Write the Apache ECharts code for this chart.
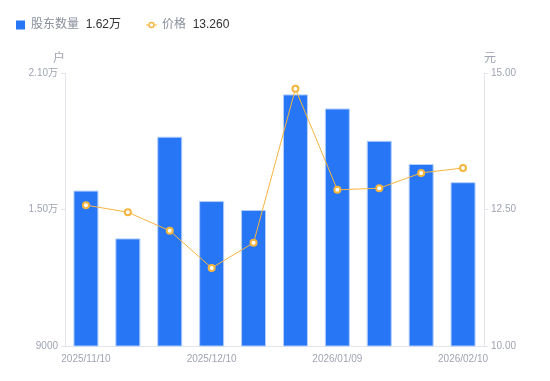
<!DOCTYPE html>
<html><head><meta charset="utf-8">
<script src="https://cdn.jsdelivr.net/npm/echarts@6/dist/echarts.min.js"></script>
<style>html,body{margin:0;padding:0;background:#fff}#c{width:550px;height:381px}</style>
</head><body><div id="c"></div>
<script>
const categories = ['2025/11/10','2025/11/20','2025/11/28','2025/12/10','2025/12/19','2025/12/31','2026/01/09','2026/01/20','2026/01/30','2026/02/10'];
const holders = [15830, 13730, 18200, 15370, 14980, 20060, 19440, 18020, 17000, 16200];
const prices = [12.58, 12.45, 12.11, 11.43, 11.89, 14.71, 12.86, 12.89, 13.17, 13.26];
const leftTicks = { min: 9000, max: 21000, interval: 6000 };
const rightTicks = { min: 10, max: 15, interval: 2.5 };

function fmtHolders(v){ return v >= 10000 ? (v/10000).toFixed(2) + '万' : String(v); }
const lastH = holders[holders.length-1], lastP = prices[prices.length-1];

const chart = echarts.init(document.getElementById('c'));
const labelColor = '#a0a4b3';
const axisLineColor = '#e3e5ea';
const font = 'Liberation Sans, Arial, Noto Sans CJK SC, sans-serif';
const lineIcon = 'path://M0,3L2.5,3L2.5,4L0,4Z M9.5,3L12,3L12,4L9.5,4Z M2.5,3.5A3.5,3.5 0 1 1 9.5,3.5A3.5,3.5 0 1 1 2.5,3.5Z M4,3.5A2,2 0 1 0 8,3.5A2,2 0 1 0 4,3.5Z';
chart.setOption({
  animation: false,
  textStyle: { fontFamily: font },
  legend: {
    left: 11, top: 14, itemWidth: 11, itemHeight: 9, itemGap: 25, symbolKeepAspect: true,
    data: [
      { name: '股东数量', icon: 'path://M0,0L9,0L9,9L0,9Z', itemStyle: { borderWidth: 0, color: '#2776f5' } },
      { name: '价格', icon: lineIcon, itemStyle: { borderWidth: 0, color: '#f6b53f' } }
    ],
    formatter: function(n){
      return n === '股东数量' ? '{a|' + n + '}  {b|' + fmtHolders(lastH) + '}' : '{a|' + n + '}  {b|' + lastP.toFixed(3) + '}';
    },
    textStyle: { rich: { a: { color: '#8a8f9c', fontSize: 12, fontFamily: font }, b: { color: '#333', fontSize: 12, fontFamily: font } } }
  },
  grid: { left: 65, right: 66, top: 73, bottom: 35 },
  xAxis: {
    type: 'category', data: categories,
    axisLine: { lineStyle: { color: axisLineColor } },
    axisTick: { show: false },
    axisLabel: { color: labelColor, fontSize: 10, interval: 2, margin: 8, fontFamily: font }
  },
  yAxis: [
    {
      type: 'value', name: '户', nameGap: 8, nameTextStyle: { color: labelColor, fontSize: 12, align: 'right' },
      min: leftTicks.min, max: leftTicks.max, interval: leftTicks.interval,
      axisLine: { show: true, lineStyle: { color: axisLineColor } },
      axisTick: { show: true, length: 4, lineStyle: { color: axisLineColor } },
      splitLine: { show: false },
      axisLabel: { color: labelColor, fontSize: 10, margin: 7, formatter: fmtHolders, fontFamily: font }
    },
    {
      type: 'value', name: '元', nameGap: 8, nameTextStyle: { color: labelColor, fontSize: 12, align: 'left' },
      min: rightTicks.min, max: rightTicks.max, interval: rightTicks.interval,
      axisLine: { show: true, lineStyle: { color: axisLineColor } },
      axisTick: { show: true, length: 4, lineStyle: { color: axisLineColor } },
      splitLine: { show: false },
      axisLabel: { color: labelColor, fontSize: 10, margin: 7, formatter: v => v.toFixed(2), fontFamily: font }
    }
  ],
  series: [
    {
      name: '股东数量', type: 'bar', data: holders, barWidth: 25, yAxisIndex: 0,
      itemStyle: { color: '#2776f5', borderColor: '#b3cffb', borderWidth: 1 }
    },
    {
      name: '价格', type: 'line', data: prices, yAxisIndex: 1,
      symbol: 'emptyCircle', symbolSize: 6,
      lineStyle: { color: '#f6b53f', width: 1 },
      itemStyle: { color: '#f6b53f', borderWidth: 2 }
    }
  ]
});
</script></body></html>
